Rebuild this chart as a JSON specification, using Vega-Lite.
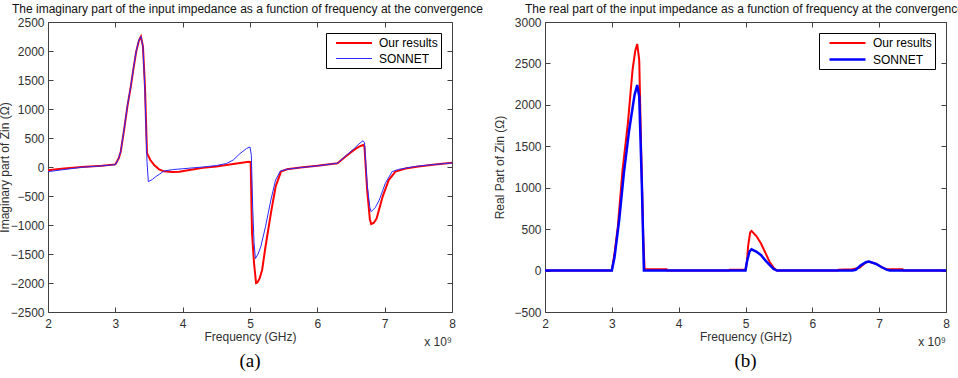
{
  "$schema": "https://vega.github.io/schema/vega-lite/v6.json",
  "padding": {"left": -2, "top": 3, "right": 0, "bottom": 0},
  "spacing": 93,
  "bounds": "flush",
  "resolve": {"scale": {"color": "independent", "strokeWidth": "independent"}, "legend": {"color": "independent", "strokeWidth": "independent"}},
  "config": {
    "font": "Liberation Sans",
    "view": {"stroke": null},
    "axis": {
      "grid": false,
      "domainColor": "#404040",
      "tickColor": "#404040",
      "labelColor": "#303030",
      "titleColor": "#303030",
      "labelFontSize": 12,
      "titleFontSize": 12,
      "titleFontWeight": "normal",
      "tickSize": -5,
      "labelPadding": 9,
      "labelFlush": false,
      "labelOverlap": false,
      "format": "d"
    },
    "axisBottom": {"labelPadding": 11},
    "title": {"fontSize": 12, "fontWeight": "normal", "color": "#111111"},
    "legend": {
      "orient": "top-right",
      "offset": 11,
      "strokeColor": "#000000",
      "fillColor": "#ffffff",
      "padding": 3,
      "labelFontSize": 12,
      "labelColor": "#000000",
      "symbolType": "M-3,0H3",
      "symbolSize": 144,
      "symbolStrokeWidth": 2,
      "rowPadding": 3,
      "labelOffset": 18,
      "symbolOffset": 18
    }
  },
  "datasets": {
    "imag": [
      {"freq": 2.0, "value": -55, "series": "Our results"},
      {"freq": 2.2, "value": -30, "series": "Our results"},
      {"freq": 2.5, "value": 0, "series": "Our results"},
      {"freq": 2.8, "value": 20, "series": "Our results"},
      {"freq": 3.0, "value": 45, "series": "Our results"},
      {"freq": 3.05, "value": 150, "series": "Our results"},
      {"freq": 3.08, "value": 264, "series": "Our results"},
      {"freq": 3.13, "value": 640, "series": "Our results"},
      {"freq": 3.18, "value": 1050, "series": "Our results"},
      {"freq": 3.23, "value": 1390, "series": "Our results"},
      {"freq": 3.27, "value": 1700, "series": "Our results"},
      {"freq": 3.31, "value": 1990, "series": "Our results"},
      {"freq": 3.35, "value": 2180, "series": "Our results"},
      {"freq": 3.38, "value": 2250, "series": "Our results"},
      {"freq": 3.41, "value": 2080, "series": "Our results"},
      {"freq": 3.44, "value": 1390, "series": "Our results"},
      {"freq": 3.47, "value": 240, "series": "Our results"},
      {"freq": 3.52, "value": 120, "series": "Our results"},
      {"freq": 3.58, "value": 30, "series": "Our results"},
      {"freq": 3.65, "value": -40, "series": "Our results"},
      {"freq": 3.72, "value": -75, "series": "Our results"},
      {"freq": 3.85, "value": -85, "series": "Our results"},
      {"freq": 3.95, "value": -80, "series": "Our results"},
      {"freq": 4.1, "value": -50, "series": "Our results"},
      {"freq": 4.3, "value": -15, "series": "Our results"},
      {"freq": 4.5, "value": 10, "series": "Our results"},
      {"freq": 4.75, "value": 50, "series": "Our results"},
      {"freq": 4.98, "value": 90, "series": "Our results"},
      {"freq": 5.01, "value": 85, "series": "Our results"},
      {"freq": 5.03, "value": -1140, "series": "Our results"},
      {"freq": 5.06, "value": -1660, "series": "Our results"},
      {"freq": 5.09, "value": -2000, "series": "Our results"},
      {"freq": 5.11, "value": -1990, "series": "Our results"},
      {"freq": 5.14, "value": -1930, "series": "Our results"},
      {"freq": 5.18, "value": -1775, "series": "Our results"},
      {"freq": 5.23, "value": -1375, "series": "Our results"},
      {"freq": 5.31, "value": -800, "series": "Our results"},
      {"freq": 5.38, "value": -340, "series": "Our results"},
      {"freq": 5.46, "value": -80, "series": "Our results"},
      {"freq": 5.55, "value": -40, "series": "Our results"},
      {"freq": 5.75, "value": -10, "series": "Our results"},
      {"freq": 6.0, "value": 20, "series": "Our results"},
      {"freq": 6.3, "value": 65, "series": "Our results"},
      {"freq": 6.42, "value": 180, "series": "Our results"},
      {"freq": 6.54, "value": 290, "series": "Our results"},
      {"freq": 6.62, "value": 350, "series": "Our results"},
      {"freq": 6.68, "value": 380, "series": "Our results"},
      {"freq": 6.7, "value": 350, "series": "Our results"},
      {"freq": 6.74, "value": -400, "series": "Our results"},
      {"freq": 6.78, "value": -900, "series": "Our results"},
      {"freq": 6.8, "value": -985, "series": "Our results"},
      {"freq": 6.84, "value": -960, "series": "Our results"},
      {"freq": 6.88, "value": -890, "series": "Our results"},
      {"freq": 6.97, "value": -510, "series": "Our results"},
      {"freq": 7.06, "value": -225, "series": "Our results"},
      {"freq": 7.16, "value": -80, "series": "Our results"},
      {"freq": 7.31, "value": -25, "series": "Our results"},
      {"freq": 7.5, "value": 10, "series": "Our results"},
      {"freq": 7.75, "value": 45, "series": "Our results"},
      {"freq": 8.0, "value": 75, "series": "Our results"},
      {"freq": 2.0, "value": -80, "series": "SONNET"},
      {"freq": 2.2, "value": -50, "series": "SONNET"},
      {"freq": 2.5, "value": -5, "series": "SONNET"},
      {"freq": 2.8, "value": 20, "series": "SONNET"},
      {"freq": 3.0, "value": 40, "series": "SONNET"},
      {"freq": 3.05, "value": 150, "series": "SONNET"},
      {"freq": 3.08, "value": 270, "series": "SONNET"},
      {"freq": 3.13, "value": 650, "series": "SONNET"},
      {"freq": 3.18, "value": 1060, "series": "SONNET"},
      {"freq": 3.23, "value": 1400, "series": "SONNET"},
      {"freq": 3.27, "value": 1710, "series": "SONNET"},
      {"freq": 3.31, "value": 2000, "series": "SONNET"},
      {"freq": 3.35, "value": 2190, "series": "SONNET"},
      {"freq": 3.38, "value": 2250, "series": "SONNET"},
      {"freq": 3.41, "value": 2080, "series": "SONNET"},
      {"freq": 3.44, "value": 1300, "series": "SONNET"},
      {"freq": 3.47, "value": 100, "series": "SONNET"},
      {"freq": 3.49, "value": -253, "series": "SONNET"},
      {"freq": 3.55, "value": -215, "series": "SONNET"},
      {"freq": 3.6, "value": -167, "series": "SONNET"},
      {"freq": 3.66, "value": -120, "series": "SONNET"},
      {"freq": 3.72, "value": -70, "series": "SONNET"},
      {"freq": 3.85, "value": -45, "series": "SONNET"},
      {"freq": 4.0, "value": -30, "series": "SONNET"},
      {"freq": 4.3, "value": 0, "series": "SONNET"},
      {"freq": 4.5, "value": 25, "series": "SONNET"},
      {"freq": 4.65, "value": 60, "series": "SONNET"},
      {"freq": 4.75, "value": 120, "series": "SONNET"},
      {"freq": 4.85, "value": 230, "series": "SONNET"},
      {"freq": 4.95, "value": 320, "series": "SONNET"},
      {"freq": 5.0, "value": 345, "series": "SONNET"},
      {"freq": 5.02, "value": 200, "series": "SONNET"},
      {"freq": 5.04, "value": -700, "series": "SONNET"},
      {"freq": 5.06, "value": -1300, "series": "SONNET"},
      {"freq": 5.08, "value": -1580, "series": "SONNET"},
      {"freq": 5.12, "value": -1500, "series": "SONNET"},
      {"freq": 5.16, "value": -1375, "series": "SONNET"},
      {"freq": 5.23, "value": -1030, "series": "SONNET"},
      {"freq": 5.31, "value": -570, "series": "SONNET"},
      {"freq": 5.38, "value": -225, "series": "SONNET"},
      {"freq": 5.45, "value": -70, "series": "SONNET"},
      {"freq": 5.55, "value": -40, "series": "SONNET"},
      {"freq": 5.75, "value": -10, "series": "SONNET"},
      {"freq": 6.0, "value": 20, "series": "SONNET"},
      {"freq": 6.3, "value": 65, "series": "SONNET"},
      {"freq": 6.42, "value": 190, "series": "SONNET"},
      {"freq": 6.54, "value": 310, "series": "SONNET"},
      {"freq": 6.62, "value": 400, "series": "SONNET"},
      {"freq": 6.68, "value": 453, "series": "SONNET"},
      {"freq": 6.7, "value": 420, "series": "SONNET"},
      {"freq": 6.74, "value": -300, "series": "SONNET"},
      {"freq": 6.78, "value": -700, "series": "SONNET"},
      {"freq": 6.8, "value": -770, "series": "SONNET"},
      {"freq": 6.86, "value": -700, "series": "SONNET"},
      {"freq": 6.92, "value": -570, "series": "SONNET"},
      {"freq": 7.01, "value": -280, "series": "SONNET"},
      {"freq": 7.11, "value": -80, "series": "SONNET"},
      {"freq": 7.21, "value": -40, "series": "SONNET"},
      {"freq": 7.46, "value": 10, "series": "SONNET"},
      {"freq": 7.75, "value": 45, "series": "SONNET"},
      {"freq": 8.0, "value": 70, "series": "SONNET"}
    ],
    "real": [
      {"freq": 2.0, "value": 0, "series": "Our results"},
      {"freq": 3.0, "value": 0, "series": "Our results"},
      {"freq": 3.04, "value": 209, "series": "Our results"},
      {"freq": 3.09, "value": 530, "series": "Our results"},
      {"freq": 3.16, "value": 1214, "series": "Our results"},
      {"freq": 3.24, "value": 1777, "series": "Our results"},
      {"freq": 3.31, "value": 2421, "series": "Our results"},
      {"freq": 3.35, "value": 2650, "series": "Our results"},
      {"freq": 3.38, "value": 2735, "series": "Our results"},
      {"freq": 3.41, "value": 2540, "series": "Our results"},
      {"freq": 3.44, "value": 1415, "series": "Our results"},
      {"freq": 3.47, "value": 400, "series": "Our results"},
      {"freq": 3.49, "value": 15, "series": "Our results"},
      {"freq": 3.82, "value": 15, "series": "Our results"},
      {"freq": 3.83, "value": 0, "series": "Our results"},
      {"freq": 4.75, "value": 0, "series": "Our results"},
      {"freq": 4.76, "value": 10, "series": "Our results"},
      {"freq": 5.0, "value": 10, "series": "Our results"},
      {"freq": 5.02, "value": 100, "series": "Our results"},
      {"freq": 5.04, "value": 300, "series": "Our results"},
      {"freq": 5.07, "value": 460, "series": "Our results"},
      {"freq": 5.09, "value": 478, "series": "Our results"},
      {"freq": 5.16, "value": 420, "series": "Our results"},
      {"freq": 5.23, "value": 330, "series": "Our results"},
      {"freq": 5.3, "value": 210, "series": "Our results"},
      {"freq": 5.36, "value": 107, "series": "Our results"},
      {"freq": 5.42, "value": 35, "series": "Our results"},
      {"freq": 5.47, "value": 0, "series": "Our results"},
      {"freq": 6.38, "value": 0, "series": "Our results"},
      {"freq": 6.39, "value": 10, "series": "Our results"},
      {"freq": 6.6, "value": 15, "series": "Our results"},
      {"freq": 6.71, "value": 35, "series": "Our results"},
      {"freq": 6.77, "value": 80, "series": "Our results"},
      {"freq": 6.83, "value": 108, "series": "Our results"},
      {"freq": 6.9, "value": 95, "series": "Our results"},
      {"freq": 6.96, "value": 80, "series": "Our results"},
      {"freq": 7.04, "value": 40, "series": "Our results"},
      {"freq": 7.11, "value": 15, "series": "Our results"},
      {"freq": 7.35, "value": 15, "series": "Our results"},
      {"freq": 7.36, "value": 0, "series": "Our results"},
      {"freq": 8.0, "value": 0, "series": "Our results"},
      {"freq": 2.0, "value": 0, "series": "SONNET"},
      {"freq": 3.0, "value": 0, "series": "SONNET"},
      {"freq": 3.04, "value": 160, "series": "SONNET"},
      {"freq": 3.11, "value": 610, "series": "SONNET"},
      {"freq": 3.18, "value": 1175, "series": "SONNET"},
      {"freq": 3.26, "value": 1700, "series": "SONNET"},
      {"freq": 3.34, "value": 2120, "series": "SONNET"},
      {"freq": 3.38, "value": 2240, "series": "SONNET"},
      {"freq": 3.41, "value": 2100, "series": "SONNET"},
      {"freq": 3.45, "value": 1015, "series": "SONNET"},
      {"freq": 3.48, "value": 0, "series": "SONNET"},
      {"freq": 5.0, "value": 0, "series": "SONNET"},
      {"freq": 5.02, "value": 100, "series": "SONNET"},
      {"freq": 5.06, "value": 230, "series": "SONNET"},
      {"freq": 5.09, "value": 257, "series": "SONNET"},
      {"freq": 5.16, "value": 230, "series": "SONNET"},
      {"freq": 5.23, "value": 188, "series": "SONNET"},
      {"freq": 5.3, "value": 120, "series": "SONNET"},
      {"freq": 5.36, "value": 68, "series": "SONNET"},
      {"freq": 5.42, "value": 20, "series": "SONNET"},
      {"freq": 5.47, "value": 0, "series": "SONNET"},
      {"freq": 6.6, "value": 0, "series": "SONNET"},
      {"freq": 6.65, "value": 10, "series": "SONNET"},
      {"freq": 6.72, "value": 60, "series": "SONNET"},
      {"freq": 6.8, "value": 100, "series": "SONNET"},
      {"freq": 6.85, "value": 108, "series": "SONNET"},
      {"freq": 6.96, "value": 78, "series": "SONNET"},
      {"freq": 7.04, "value": 40, "series": "SONNET"},
      {"freq": 7.11, "value": 12, "series": "SONNET"},
      {"freq": 7.16, "value": 0, "series": "SONNET"},
      {"freq": 8.0, "value": 0, "series": "SONNET"}
    ]
  },
  "hconcat": [
    {
      "width": 404,
      "height": 290,
      "title": {"text": "The imaginary part of the input impedance as a function of frequency at the convergence", "anchor": "start", "frame": "group", "dx": -36, "offset": 0},
      "data": {"name": "imag"},
      "layer": [
        {
          "mark": {"type": "line"},
          "encoding": {
            "x": {"field": "freq", "type": "quantitative", "scale": {"domain": [2, 8], "nice": false, "zero": false}, "axis": {"values": [2, 3, 4, 5, 6, 7, 8], "title": "Frequency (GHz)", "titlePadding": 2}},
            "y": {"field": "value", "type": "quantitative", "scale": {"domain": [-2500, 2500], "nice": false}, "axis": {"values": [-2500, -2000, -1500, -1000, -500, 0, 500, 1000, 1500, 2000, 2500], "title": "Imaginary part of Zin (Ω)", "titlePadding": -1}},
            "color": {"field": "series", "type": "nominal", "scale": {"domain": ["Our results", "SONNET"], "range": ["#ff0000", "#2a2aff"]}, "legend": {"title": null, "orient": "top-right", "offset": 11}},
            "strokeWidth": {"field": "series", "type": "nominal", "scale": {"domain": ["Our results", "SONNET"], "range": [2, 1]}, "legend": null}
          }
        },
        {
          "mark": {"type": "point", "opacity": 0},
          "encoding": {
            "x": {"field": "freq", "type": "quantitative", "axis": {"orient": "top", "values": [2, 3, 4, 5, 6, 7, 8], "labels": false, "title": null}},
            "y": {"field": "value", "type": "quantitative", "axis": {"orient": "right", "values": [-2500, -2000, -1500, -1000, -500, 0, 500, 1000, 1500, 2000, 2500], "labels": false, "title": null}}
          }
        },
        {
          "data": {"values": [{"label": "x 10⁹"}]},
          "mark": {"type": "text", "align": "right", "baseline": "alphabetic", "fontSize": 12, "color": "#303030", "dy": 34},
          "encoding": {
            "x": {"datum": 8, "type": "quantitative", "axis": null},
            "y": {"datum": -2500, "type": "quantitative", "axis": null},
            "text": {"field": "label"}
          }
        },
        {
          "data": {"values": [{"label": "(a)"}]},
          "mark": {"type": "text", "align": "center", "baseline": "alphabetic", "font": "Liberation Serif", "fontSize": 19, "color": "#000000", "dy": 55},
          "encoding": {
            "x": {"datum": 5, "type": "quantitative", "axis": null},
            "y": {"datum": -2500, "type": "quantitative", "axis": null},
            "text": {"field": "label"}
          }
        }
      ],
      "resolve": {"axis": {"x": "independent", "y": "independent"}}
    },
    {
      "width": 401,
      "height": 290,
      "title": {"text": "The real part of the input impedance as a function of frequency at the convergence", "anchor": "start", "frame": "group", "dx": -20, "offset": 0},
      "data": {"name": "real"},
      "layer": [
        {
          "mark": {"type": "line"},
          "encoding": {
            "x": {"field": "freq", "type": "quantitative", "scale": {"domain": [2, 8], "nice": false, "zero": false}, "axis": {"values": [2, 3, 4, 5, 6, 7, 8], "title": "Frequency (GHz)", "titlePadding": 2}},
            "y": {"field": "value", "type": "quantitative", "scale": {"domain": [-500, 3000], "nice": false}, "axis": {"values": [-500, 0, 500, 1000, 1500, 2000, 2500, 3000], "title": "Real Part of Zin (Ω)", "titlePadding": 7}},
            "color": {"field": "series", "type": "nominal", "scale": {"domain": ["Our results", "SONNET"], "range": ["#ff0000", "#0000ff"]}, "legend": {"title": null, "orient": "top-right", "offset": 11}},
            "strokeWidth": {"field": "series", "type": "nominal", "scale": {"domain": ["Our results", "SONNET"], "range": [2, 2.5]}, "legend": null}
          }
        },
        {
          "mark": {"type": "point", "opacity": 0},
          "encoding": {
            "x": {"field": "freq", "type": "quantitative", "axis": {"orient": "top", "values": [2, 3, 4, 5, 6, 7, 8], "labels": false, "title": null}},
            "y": {"field": "value", "type": "quantitative", "axis": {"orient": "right", "values": [-500, 0, 500, 1000, 1500, 2000, 2500, 3000], "labels": false, "title": null}}
          }
        },
        {
          "data": {"values": [{"label": "x 10⁹"}]},
          "mark": {"type": "text", "align": "right", "baseline": "alphabetic", "fontSize": 12, "color": "#303030", "dy": 34},
          "encoding": {
            "x": {"datum": 8, "type": "quantitative", "axis": null},
            "y": {"datum": -500, "type": "quantitative", "axis": null},
            "text": {"field": "label"}
          }
        },
        {
          "data": {"values": [{"label": "(b)"}]},
          "mark": {"type": "text", "align": "center", "baseline": "alphabetic", "font": "Liberation Serif", "fontSize": 19, "color": "#000000", "dy": 55},
          "encoding": {
            "x": {"datum": 5, "type": "quantitative", "axis": null},
            "y": {"datum": -500, "type": "quantitative", "axis": null},
            "text": {"field": "label"}
          }
        }
      ],
      "resolve": {"axis": {"x": "independent", "y": "independent"}}
    }
  ]
}
